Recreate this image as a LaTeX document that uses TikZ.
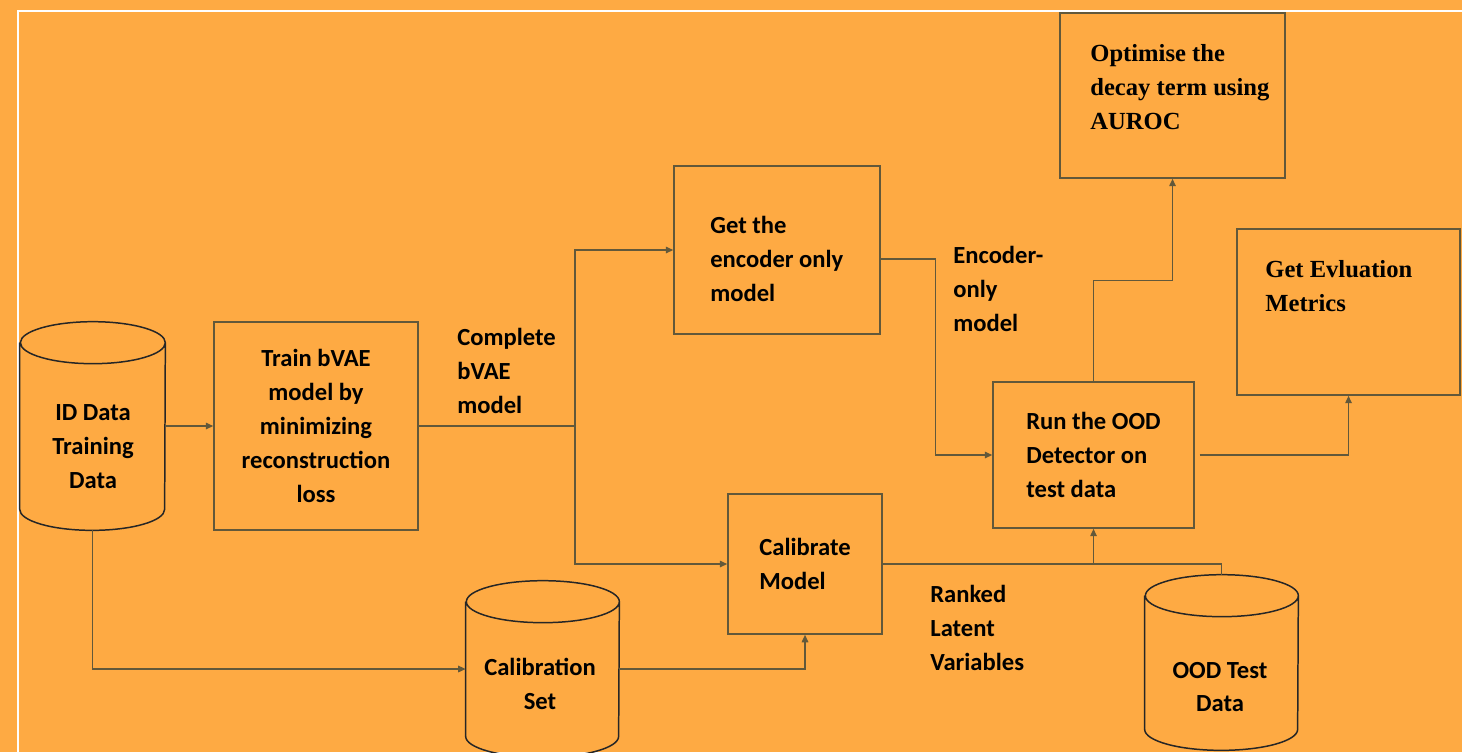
\documentclass[tikz,border=0pt]{standalone}
\usepackage{fontspec}
\setmainfont{Carlito}
\newfontfamily\timesbf{Liberation Serif}
\usetikzlibrary{arrows.meta}

\definecolor{bgorange}{RGB}{254,170,67}
\definecolor{edge}{RGB}{98,88,58}

% half height of the cylinder ends
\newcommand\cyr{0.42cm}
% outline of a data store round a named node: name, x radius
\newcommand\cylout[2]{\draw[dbline] ([yshift=-\cyr]#1.north west) -- ([yshift=\cyr]#1.south west) arc[start angle=180,end angle=360,x radius=#2,y radius=\cyr] -- ([yshift=-\cyr]#1.north east) arc[start angle=0,end angle=360,x radius=#2,y radius=\cyr];}

\tikzset{
  box/.style = {draw=edge, line width=0.85pt, align=center, inner sep=0pt},
  db/.style = {inner sep=0pt},
  dbline/.style = {draw=black!85, line width=0.85pt},
  txt/.style = {inner sep=0pt, align=left, anchor=west},
  serif/.style = {font={\timesbf\fontsize{14}{19.3}\selectfont\bfseries}},
  link/.style = {draw=edge, line width=0.85pt},
  arr/.style = {link, -{Triangle[length=0.15cm,width=0.13cm]}},
}

\begin{document}
\begin{tikzpicture}[x=0.02cm, y=-0.02cm, every node/.style = {font = {\fontsize{14}{19.3}\selectfont\bfseries}}]
        \useasboundingbox (0,0) rectangle (1462,752);
        \fill[bgorange] (0,0) rectangle (1462,752);
        \clip (0,0) rectangle (1462,752);
        \draw[white, line width=0.9pt] (18,752) -- (18,11) -- (1462,11);

        % data stores
        \node[db, minimum width=2.9cm, minimum height=4.16cm] (id) at (92.5,426) {};
        \cylout{id}{1.45cm}
        \node[align=center] (idtxt) at (93,447) {ID Data\\Training\\Data};

        \node[db, minimum width=3.06cm, minimum height=3.52cm] (calset) at (542.5,669) {};
        \cylout{calset}{1.53cm}
        \node[align=center] (calsettxt) at (540,684) {Calibration\\Set};

        \node[db, minimum width=3.06cm, minimum height=3.5cm] (ood) at (1221.5,662.5) {};
        \cylout{ood}{1.53cm}
        \node[align=center] (oodtxt) at (1220,687) {OOD Test\\Data};

        % steps
        \node[box, minimum width=4.08cm, minimum height=4.16cm] (train) at (316,426) {Train bVAE\\model by\\minimizing\\reconstruction\\loss};
        \node[box, minimum width=4.12cm, minimum height=3.36cm] (enc) at (777,250) {};
        \node[txt] (enctxt) at (710,259) {Get the\\encoder only\\model};
        \node[box, align=left, minimum width=3.08cm, minimum height=2.8cm] (cal) at (805,564) {Calibrate\\Model};
        \node[box, align=left, minimum width=4.02cm, minimum height=2.92cm] (run) at (1093.5,455) {Run the OOD\\Detector on\\test data};
        \node[box, minimum width=4.5cm, minimum height=3.3cm] (opt) at (1172.5,95.5) {};
        \node[txt, serif] (opttxt) at (1090,87) {Optimise the\\decay term using\\AUROC};
        \node[box, minimum width=4.46cm, minimum height=3.32cm] (eval) at (1348.5,312) {};
        \node[txt, serif] (evaltxt) at (1265,286) {Get Evluation\\Metrics};

        % edge labels
        \node[txt] (lblcomplete) at (457,371) {Complete\\bVAE\\model};
        \node[txt] (lblencoder) at (953,289) {Encoder-\\only\\model};
        \node[txt] (lblranked) at (930,628) {Ranked\\Latent\\Variables};

        % connectors
        \draw[arr] (id.east) -- (train.west);
        \coordinate (split) at (575,426);
        \draw[link] (train.east) -- (split);
        \draw[arr] (split) |- (enc.west);
        \draw[arr] (split) |- (cal.west);
        \draw[arr] ([yshift=-0.18cm]enc.east) -- ++(55,0) |- (run.west);
        \draw[arr] (run.north) -- ++(0,-101) -| (opt.south);
        \draw[arr] ([xshift=0.1cm]run.east) -| (eval.south);
        \draw[arr] (cal.east) -| (run.south);
        \draw[link] (ood.north) |- (run.south |- cal.east);
        \draw[arr] (id.south) |- (calset.west);
        \draw[arr] (calset.east) -| (cal.south);
    \end{tikzpicture}
\end{document}
